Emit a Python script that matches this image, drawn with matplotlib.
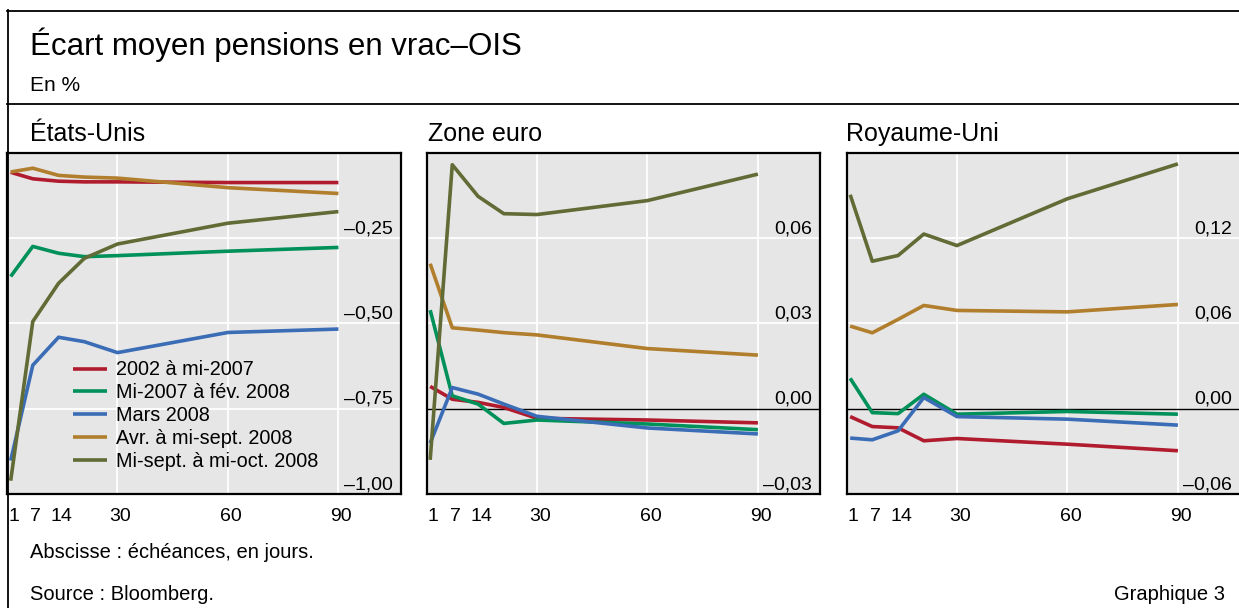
import matplotlib
matplotlib.use("Agg")
import matplotlib.pyplot as plt
from matplotlib.lines import Line2D
from matplotlib.transforms import ScaledTranslation

plt.rcParams['font.family'] = ['Liberation Sans', 'DejaVu Sans']

# maturities (days)
days = [1, 7, 14, 21, 30, 60, 90]
xtick_vals = [1, 7, 14, 30, 60, 90]

labels = ["2002 à mi-2007", "Mi-2007 à fév. 2008", "Mars 2008",
          "Avr. à mi-sept. 2008", "Mi-sept. à mi-oct. 2008"]
colors = ["#b01c2e", "#00915a", "#3a6db6", "#b07e2c", "#616b35"]

# États-Unis
us_red = [-0.058, -0.077, -0.084, -0.086, -0.086, -0.088, -0.088]
us_green = [-0.363, -0.275, -0.295, -0.305, -0.302, -0.289, -0.278]
us_blue = [-0.902, -0.623, -0.541, -0.554, -0.586, -0.527, -0.517]
us_orange = [-0.057, -0.046, -0.067, -0.072, -0.075, -0.103, -0.120]
us_olive = [-0.961, -0.495, -0.383, -0.310, -0.268, -0.207, -0.173]

# Zone euro
eu_red = [0.0078, 0.0033, 0.0022, 0.0004, -0.0034, -0.0040, -0.0050]
eu_green = [0.0346, 0.0045, 0.0016, -0.0052, -0.0040, -0.0054, -0.0074]
eu_blue = [-0.0121, 0.0074, 0.0051, 0.0016, -0.0027, -0.0068, -0.0089]
eu_orange = [0.0509, 0.0284, 0.0276, 0.0267, 0.0259, 0.0211, 0.0188]
eu_olive = [-0.0180, 0.0857, 0.0746, 0.0685, 0.0682, 0.0731, 0.0824]

# Royaume-Uni
uk_red = [-0.0056, -0.0126, -0.0135, -0.0226, -0.0210, -0.0250, -0.0296]
uk_green = [0.0213, -0.0028, -0.0035, 0.0101, -0.0039, -0.0020, -0.0039]
uk_blue = [-0.0207, -0.0219, -0.0156, 0.0078, -0.0056, -0.0074, -0.0116]
uk_orange = [0.0580, 0.0533, 0.0627, 0.0725, 0.0690, 0.0680, 0.0732]
uk_olive = [0.1503, 0.1036, 0.1076, 0.1227, 0.1146, 0.1475, 0.1720]

panels = [
    ("États-Unis", [us_red, us_green, us_blue, us_orange, us_olive],
     (-1.0, 0.0), [-1.0, -0.75, -0.5, -0.25], False),
    ("Zone euro", [eu_red, eu_green, eu_blue, eu_orange, eu_olive],
     (-0.03, 0.09), [-0.03, 0.0, 0.03, 0.06], True),
    ("Royaume-Uni", [uk_red, uk_green, uk_blue, uk_orange, uk_olive],
     (-0.06, 0.18), [-0.06, 0.0, 0.06, 0.12], True),
]

W, H = 1239, 608
fig = plt.figure(figsize=(W / 100, H / 100), dpi=100)


def fx(px):
    return px / W


def fy(py):
    return 1 - py / H


def fmt(v):
    s = "%.2f" % v
    return s.replace(".", ",").replace("-", "\u2013")


lefts = [7, 426.5, 846.5]
titles_x = [30, 428, 846]
bg = "#e6e6e6"

for i, (name, series, ylim, yticks, zero) in enumerate(panels):
    ax = fig.add_axes([fx(lefts[i]), fy(494), 394 / W, (494 - 152.5) / H])
    ax.set_facecolor(bg)
    ax.set_xlim(0, 107)
    ax.set_ylim(*ylim)
    for v in [30, 60, 90]:
        ax.axvline(v, color="white", lw=1.3, zorder=1)
    for v in yticks[1:]:
        ax.axhline(v, color="black" if (zero and v == 0) else "white",
                   lw=1.0 if (zero and v == 0) else 1.3, zorder=1)
    for vals, c, lab in zip(series, colors, labels):
        ax.plot(days, vals, color=c, lw=2.6, label=lab, zorder=3,
                solid_capstyle="butt")
    ax.set_xticks(xtick_vals)
    ax.set_xticklabels([str(d) for d in xtick_vals], fontsize=14)
    ax.set_yticks([])
    ax.tick_params(axis="x", length=0, pad=10)
    shift = ScaledTranslation(3 / 100, 0, fig.dpi_scale_trans)
    for t in ax.get_xticklabels():
        t.set_transform(t.get_transform() + shift)
    for sp in ax.spines.values():
        sp.set_linewidth(1.6)
        sp.set_color("black")
    for v in yticks:
        ax.annotate(fmt(v), xy=(1, v), xycoords=("axes fraction", "data"),
                    xytext=(-6, 3.5), textcoords="offset points",
                    ha="right", va="baseline", fontsize=14, zorder=4)
    fig.text(fx(titles_x[i]), fy(141), name, fontsize=18, va="baseline")
    if i == 0:
        leg = ax.legend(loc="upper left", bbox_to_anchor=(0.167, 0.391),
                        frameon=False, fontsize=14.3, handlelength=1.7,
                        handletextpad=0.5, labelspacing=0.19,
                        borderpad=0, borderaxespad=0)
        for h in leg.get_lines():
            h.set_linewidth(2.6)

# header / border lines
lk = dict(color="black", lw=1.3, transform=fig.transFigure)
fig.add_artist(Line2D([fx(7), 1], [fy(10.5), fy(10.5)], **lk))
fig.add_artist(Line2D([fx(7.5), fx(7.5)], [fy(10), 0], **lk))
fig.add_artist(Line2D([fx(7), 1], [fy(104), fy(104)], **lk))

fig.text(fx(30), fy(55), "Écart moyen pensions en vrac\u2013OIS", fontsize=22.5,
         va="baseline")
fig.text(fx(30), fy(91), "En %", fontsize=15, va="baseline")
fig.text(fx(30), fy(558), "Abscisse : échéances, en jours.", fontsize=14.5,
         va="baseline")
fig.text(fx(30), fy(600), "Source : Bloomberg.", fontsize=14.5, va="baseline")
fig.text(fx(1225), fy(600), "Graphique 3", fontsize=14.5, va="baseline",
         ha="right")

fig.savefig("out.png", dpi=100)
